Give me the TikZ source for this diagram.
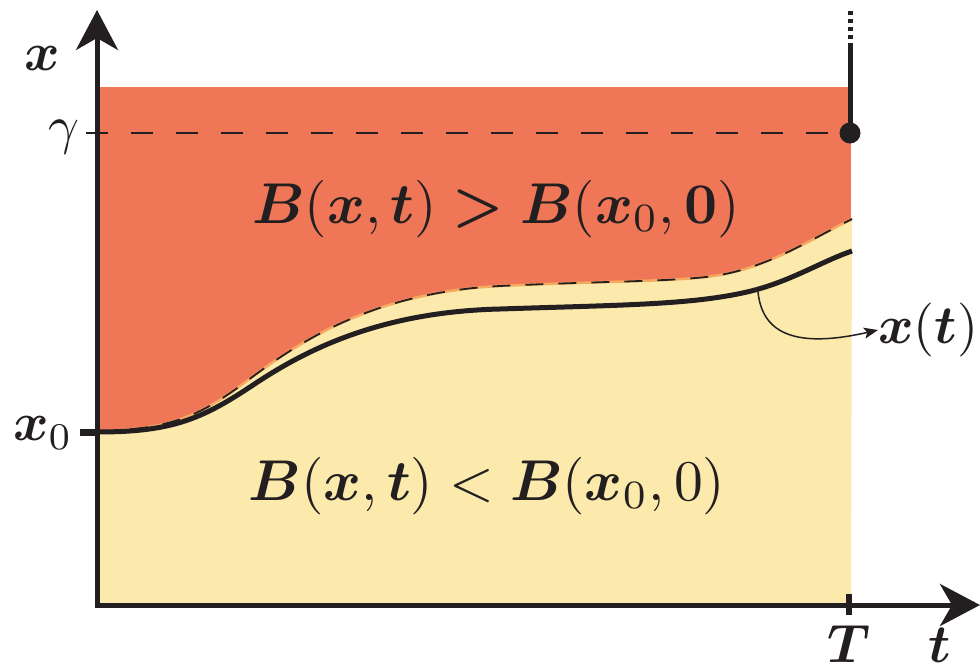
\documentclass[tikz,border=0pt]{standalone}
\usepackage{graphicx}
\usepackage{bm}
\usetikzlibrary{arrows.meta}
\definecolor{redfill}{HTML}{EF7757}
\definecolor{yelfill}{HTML}{FBEAAC}
\definecolor{edgeor}{HTML}{F6A960}
\definecolor{ink}{HTML}{231F20}
\newcommand{\BLab}[1]{\scalebox{5.4}{#1}}
\newcommand{\BigLab}[1]{\scalebox{5.75}{#1}}
\tikzset{
  axis/.style={ink, line width=5pt, -{Stealth[length=40pt,width=42pt,inset=12pt]}},
  lab/.style={inner sep=0pt, text=ink},
}
\def\bndpath{(97,431) .. controls (170,430) and (200,415) .. (240,386) .. controls (285,353) and (360,293) .. (500,286) .. controls (600,281) and (680,282) .. (720,275) .. controls (770,266) and (810,240) .. (852,219)}
\begin{document}
\begin{tikzpicture}[x=1pt,y=-1pt]
\useasboundingbox (0,0) rectangle (980,672);
% regions
\fill[redfill] (97,87) rectangle (851,605);
\fill[yelfill] (97,605) -- \bndpath -- (851,605) -- cycle;
\draw[edgeor, line width=2.5pt] \bndpath;
\draw[ink, line width=1.8pt, dash pattern=on 18pt off 15pt] \bndpath;
% solid trajectory
\draw[ink, line width=5pt] (97,432) .. controls (170,432) and (200,420) .. (250,387) .. controls (295,357) and (370,312) .. (500,309) .. controls (620,305) and (690,305) .. (747,292) .. controls (790,282) and (820,262) .. (852,251);
% gamma dashed line
\draw[ink, line width=2pt, dash pattern=on 22pt off 23pt] (86,133) -- (850,133);
% vertical line at T above gamma
\coordinate (dot) at (850,133);
\coordinate (vtop) at (850,47);
\coordinate (vdots) at (850,8);
\draw[ink, line width=5pt] (dot) -- (vtop);
\draw[ink, line width=5pt, dash pattern=on 4pt off 4pt] (vtop) -- (vdots);
\fill[ink] (dot) circle (10.5pt);
% axes
\coordinate (ytip) at (97,10);
\coordinate (xtip) at (980,605);
\draw[axis] (97,607.5) -- (ytip);
\draw[axis] (94.5,605) -- (xtip);
% ticks
\draw[ink, line width=7pt] (80,432) -- (97,432);
\draw[ink, line width=6pt] (849,594) -- (849,615);
% labels
\node[lab] (xl) at (42,58) {\BLab{$\bm{x}$}};
\node[lab] (gl) at (64,137) {\BLab{$\gamma$}};
\node[lab] (x0l) at (43,433) {\BLab{$\bm{x}_0$}};
\node[lab] (Tl) at (849,644) {\BLab{$\bm{T}$}};
\node[lab] (tl) at (940,645) {\BLab{$\bm{t}$}};
\node[lab, anchor=base] (up) at (496,223) {\BigLab{$\bm{B}(\bm{x},\bm{t}) \bm{>} \bm{B}(\bm{x}_0,\mathbf{0})$}};
\node[lab, anchor=base] (lo) at (487,500) {\BigLab{$\bm{B}(\bm{x},\bm{t}) < \bm{B}(\bm{x}_0,0)$}};
\node[lab, anchor=west] (xt) at (878,330) {\BLab{$\bm{x}(\bm{t})$}};
% pointer
\coordinate (pstart) at (758,292);
\draw[ink, line width=1.5pt, -{Stealth[length=14pt,width=11pt,inset=3pt]}] (pstart) .. controls (762,330) and (790,350) .. (xt.west);
\end{tikzpicture}
\end{document}
